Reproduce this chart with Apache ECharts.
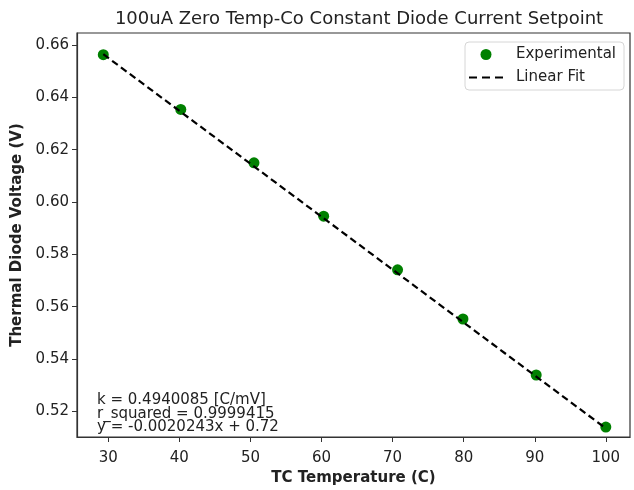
<!DOCTYPE html>
<html>
<head>
<meta charset="utf-8">
<script src="https://cdn.jsdelivr.net/npm/echarts@6/dist/echarts.min.js"></script>
<style>
  html, body {margin: 0; padding: 0; background: #fff;}
  #chart {width: 634px; height: 490px;}
</style>
</head>
<body>
<div id="chart"></div>
<script>
// measured points (TC temperature in C, diode voltage in V)
const tempC = [29.3, 40.2, 50.5, 60.3, 70.7, 79.9, 90.2, 100.0];
const voltage = [0.6563, 0.6354, 0.6150, 0.5946, 0.5741, 0.5553, 0.5339, 0.5140];

// linear fit end points
const fitX = [29.3, 100.0];
const fitY = [0.6565, 0.5135];

const xTicks = [30, 40, 50, 60, 70, 80, 90, 100];
const yTicks = [0.52, 0.54, 0.56, 0.58, 0.60, 0.62, 0.64, 0.66];

const noteLines = [
    'k = 0.4940085 [C/mV]',
    'r_squared = 0.9999415',
    'y = -0.0020243x + 0.72'
];

const font = 'DejaVu Sans';
const ink = '#222';
// three short bars, used as the legend icon of the dashed fit line
const dashIcon = 'path://M0,0H8V2H0ZM13,0H21V2H13ZM26,0H34V2H26Z';

const chart = echarts.init(document.getElementById('chart'));

chart.setOption({
    animation: false,
    backgroundColor: '#fff',
    title: {
        text: '100uA Zero Temp-Co Constant Diode Current Setpoint',
        left: 354,
        textAlign: 'center',
        top: 5,
        textStyle: {fontFamily: font, fontSize: 18, fontWeight: 'normal', color: ink}
    },
    grid: {
        left: 77, right: 4, top: 33, bottom: 53,
        outerBoundsMode: 'none',
        show: true,
        borderColor: '#333',
        borderWidth: 1.2
    },
    legend: {
        orient: 'vertical',
        left: 465,
        top: 42,
        padding: [5, 8, 5, 4],
        itemGap: 8,
        itemWidth: 34,
        itemHeight: 11,
        symbolKeepAspect: true,
        borderColor: '#d6d6d6',
        borderWidth: 1,
        borderRadius: 4,
        backgroundColor: '#fff',
        textStyle: {fontFamily: font, fontSize: 15, color: ink, padding: [0, 0, 0, 8]},
        data: [
            {name: 'Experimental', icon: 'circle'},
            {name: 'Linear Fit', icon: dashIcon}
        ]
    },
    xAxis: {
        type: 'value',
        min: 25.6,
        max: 103.4,
        name: 'TC Temperature (C)',
        nameLocation: 'middle',
        nameGap: 34,
        nameTextStyle: {fontFamily: font, fontSize: 15, fontWeight: 'bold', color: ink},
        axisLine: {show: true, lineStyle: {color: '#333', width: 1.2}},
        axisTick: {show: true, length: 5, customValues: xTicks, lineStyle: {color: '#333'}},
        axisLabel: {
            customValues: xTicks,
            margin: 14,
            fontFamily: font, fontSize: 15, color: ink
        },
        splitLine: {show: false}
    },
    yAxis: {
        type: 'value',
        min: 0.5102,
        max: 0.6646,
        name: 'Thermal Diode Voltage (V)',
        nameLocation: 'middle',
        nameGap: 45,
        nameTextStyle: {fontFamily: font, fontSize: 15, fontWeight: 'bold', color: ink},
        axisLine: {show: true, lineStyle: {color: '#333', width: 1.2}},
        axisTick: {show: true, length: 5, customValues: yTicks, lineStyle: {color: '#333'}},
        axisLabel: {
            customValues: yTicks,
            margin: 8,
            formatter: v => v.toFixed(2),
            fontFamily: font, fontSize: 15, color: ink
        },
        splitLine: {show: false}
    },
    graphic: [{
        type: 'text',
        left: 97,
        top: 393,
        style: {
            text: noteLines.join('\n'),
            fontFamily: font,
            fontSize: 15,
            lineHeight: 13.5,
            fill: ink
        }
    }],
    series: [{
        name: 'Experimental',
        type: 'scatter',
        symbolSize: 11,
        itemStyle: {color: '#008000', opacity: 1},
        z: 2,
        data: tempC.map((t, i) => [t, voltage[i]])
    }, {
        name: 'Linear Fit',
        type: 'line',
        symbol: 'none',
        z: 3,
        lineStyle: {color: '#000', width: 2.2, type: [7, 4]},
        itemStyle: {color: '#000'},
        data: fitX.map((t, i) => [t, fitY[i]])
    }]
});
</script>
</body>
</html>
